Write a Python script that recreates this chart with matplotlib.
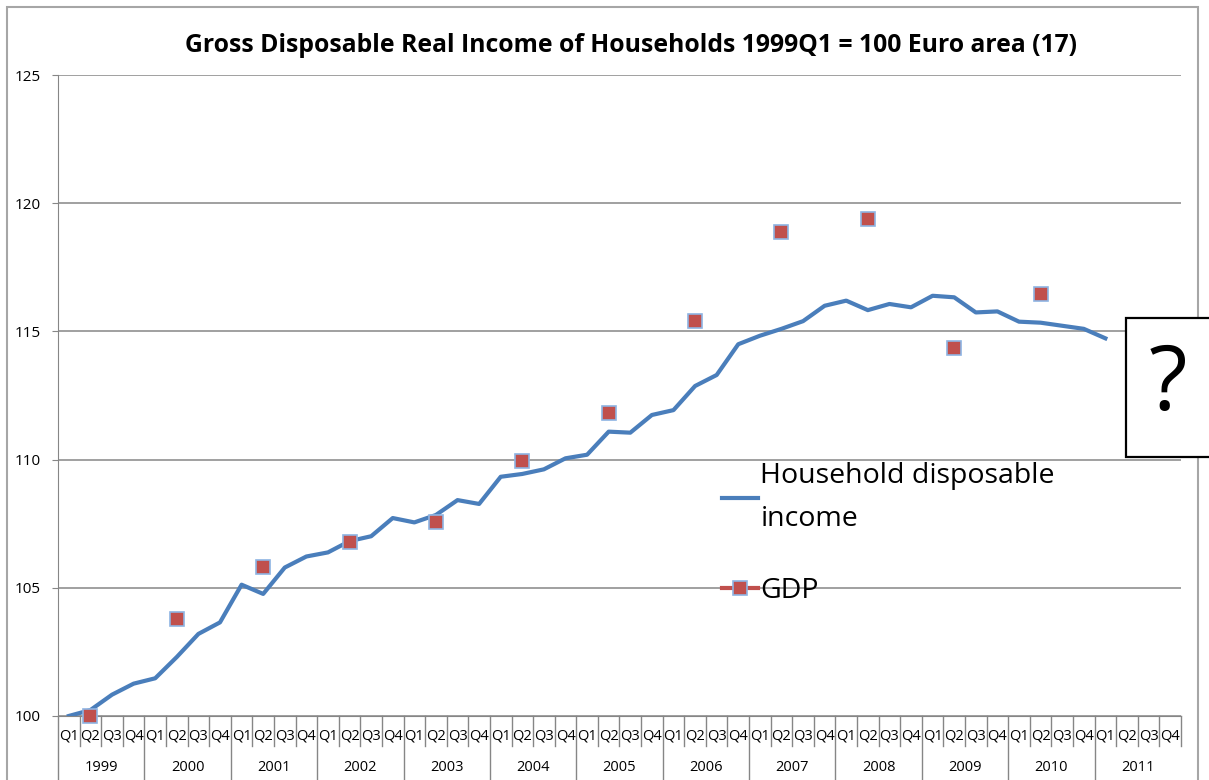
import matplotlib
matplotlib.use('Agg')
import matplotlib.pyplot as plt
import matplotlib.transforms as mtransforms
from matplotlib.lines import Line2D
from matplotlib.patches import Rectangle

# category axis: 1999Q1 .. 2011Q4
years = list(range(1999, 2012))
quarters = ['Q1', 'Q2', 'Q3', 'Q4']

# household disposable income, 1999Q1 .. 2011Q1 (1999Q1 = 100)
household_income = [100.0, 100.23, 100.83, 101.26, 101.47, 102.3, 103.2, 103.65,
                    105.12, 104.76, 105.79, 106.22, 106.38, 106.82, 107.01, 107.72,
                    107.55, 107.84, 108.42, 108.27, 109.33, 109.44, 109.62, 110.05,
                    110.19, 111.09, 111.05, 111.74, 111.93, 112.87, 113.3, 114.5,
                    114.83, 115.1, 115.4, 116.0, 116.2, 115.83, 116.07, 115.94,
                    116.39, 116.33, 115.74, 115.78, 115.38, 115.34, 115.22, 115.1,
                    114.73]

# GDP, one value per year, plotted at Q2
gdp_years = list(range(1999, 2011))
gdp = [100.0, 103.78, 105.82, 106.8, 107.57, 109.93, 111.8, 115.4, 118.89,
       119.37, 114.34, 116.45]

title = 'Gross Disposable Real Income of Households 1999Q1 = 100 Euro area (17)'

plt.rcParams['font.family'] = ['Open Sans', 'DejaVu Sans']

blue = '#4A7EBB'
red = '#C0504D'
edge = '#8EB4E3'
grey = '#868686'

categories = [(y, q) for y in years for q in quarters]
cat_index = {c: i for i, c in enumerate(categories)}
gdp_x = [cat_index[(y, 'Q2')] for y in gdp_years]

fig = plt.figure(figsize=(12.09, 7.80), dpi=100)
ax = fig.add_axes([0.048, 0.0821, 0.9288, 0.8217])

ax.plot(range(len(household_income)), household_income, color=blue, lw=3,
        solid_joinstyle='round', zorder=3)
ax.plot(gdp_x, gdp, ls='none', marker='s', ms=10, mfc=red, mec=edge, mew=1.2,
        clip_on=False, zorder=4)

ax.set_xlim(-0.5, len(categories) - 0.5)
ax.set_ylim(100, 125)
ax.set_yticks([100, 105, 110, 115, 120, 125])
ax.yaxis.grid(True, color=grey, lw=1.1)
ax.set_axisbelow(True)
for s in ['top', 'right']:
    ax.spines[s].set_visible(False)
ax.spines['left'].set_color(grey)
ax.spines['bottom'].set_color(grey)
ax.tick_params(axis='y', direction='out', length=4.5, color=grey,
               labelsize=11, pad=8)
ax.set_xticks([])

# two-level category labels
trans = mtransforms.blended_transform_factory(ax.transData, ax.transAxes)
for i, (y, q) in enumerate(categories):
    ax.text(i, -0.031, q, transform=trans, ha='center', va='center', fontsize=10.5)
for k, y in enumerate(years):
    ax.text(4 * k + 1.5, -0.081, str(y), transform=trans, ha='center',
            va='center', fontsize=10.5)
for k in range(len(categories) + 1):
    low = -0.1 if k % 4 == 0 and k < len(categories) else -0.047
    ax.plot([k - 0.5, k - 0.5], [0, low], transform=trans, color=grey, lw=1,
            clip_on=False)

handles = [Line2D([], [], color=blue, lw=3),
           Line2D([], [], color=red, lw=3, marker='s', ms=10, mfc=red,
                  mec=edge, mew=1.2)]
leg = ax.legend(handles, ['Household disposable\nincome', 'GDP'], loc='upper left',
                bbox_to_anchor=(722 / 1209, 1 - 462 / 780),
                bbox_transform=fig.transFigure, frameon=False, fontsize=20.5,
                handlelength=1.25, handletextpad=0.1, labelspacing=1.55,
                borderpad=0, borderaxespad=0)
for t in leg.get_texts():
    t.set_linespacing(1.7)

fig.text(0.522, 0.942, title, ha='center', va='center', fontsize=17.8,
         fontweight='bold')

# outer chart frame
fig.patches.append(Rectangle((7 / 1209, -0.02), 1191 / 1209, 1 - 7 / 780 + 0.02,
                             transform=fig.transFigure, fill=False,
                             edgecolor='#A6A6A6', lw=1.5))
# question mark box
fig.patches.append(Rectangle((1126 / 1209, 1 - 457 / 780), 0.1, 139 / 780,
                             transform=fig.transFigure, facecolor='white',
                             edgecolor='black', lw=1.6, zorder=10))
fig.text(1168 / 1209, 1 - 387 / 780, '?', ha='center', va='center',
         fontsize=64, zorder=11)

fig.savefig('out.png', dpi=100)
